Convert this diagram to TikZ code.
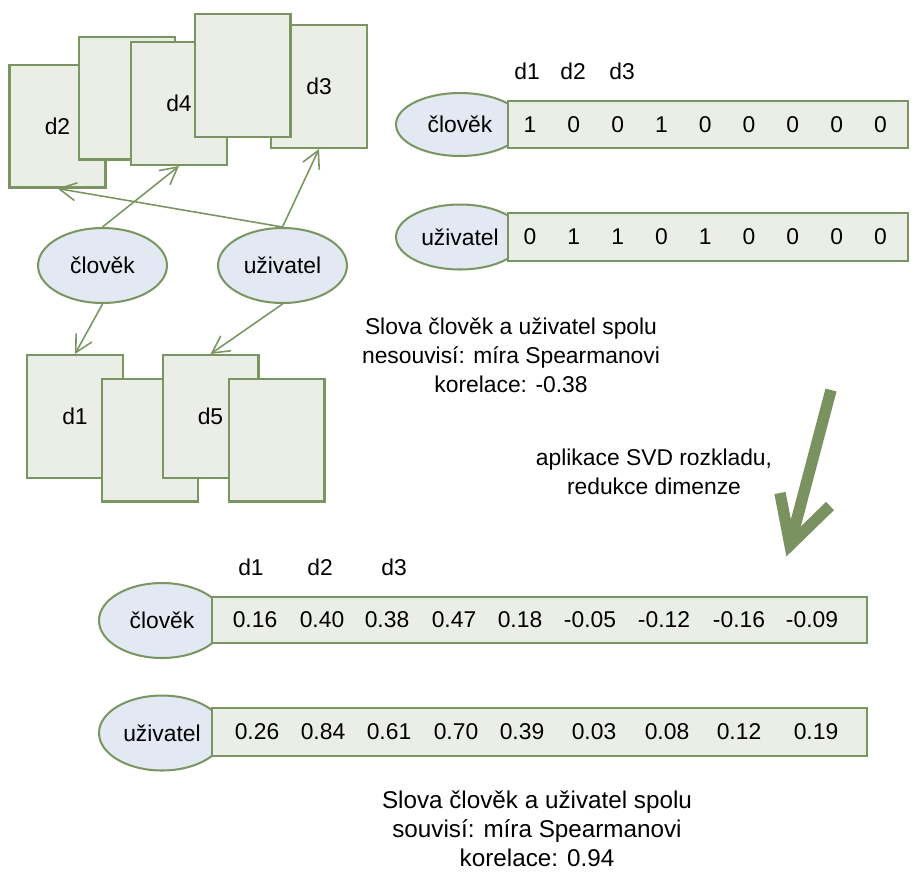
\documentclass[tikz,border=0pt]{standalone}
\usepackage{fontspec}
\setmainfont{Liberation Sans}
\usetikzlibrary{arrows.meta,shapes.geometric}
\definecolor{docline}{RGB}{122,149,97}
\definecolor{docfill}{RGB}{235,238,230}
\definecolor{wordfill}{RGB}{226,233,243}
\definecolor{svdgreen}{RGB}{122,145,96}

\begin{document}
\begin{tikzpicture}[x=0.02cm,y=-0.02cm,
  every node/.style={font=\fontsize{13}{16.5}\selectfont},
  doc/.style={draw=docline,fill=docfill,line width=1.15pt,inner sep=0pt,
    minimum width=1.92cm,minimum height=2.46cm},
  word/.style={ellipse,draw=docline,fill=wordfill,line width=1.15pt,inner sep=0pt,
    minimum width=2.58cm,minimum height=1.5cm},
  vec/.style={draw=docline,fill=docfill,line width=1.15pt,inner sep=0pt},
  link/.style={draw=docline,line width=0.9pt,-{Straight Barb[length=3.4mm,width=3.6mm]}},
  svd/.style={draw=svdgreen,line width=6.5pt}]
  \useasboundingbox (0,0) rectangle (916,877);

  % documents
  \node[doc] (d2) at (57.5,126) {d2};
  \node[doc] (b1) at (127,98) {};
  \node[doc] (d4) at (179,103.5) {d4};
  \node[doc] (d3) at (319,86.5) {d3};
  \node[doc] (b2) at (242.5,75.5) {};
  \node[doc] (d1) at (75,416.5) {d1};
  \node[doc] (b3) at (150,440) {};
  \node[doc] (d5) at (210.5,416.5) {d5};
  \node[doc] (b4) at (276.5,440) {};

  % words
  \node[word] (clovek) at (102.5,265.5) {člověk};
  \node[word] (uzivatel) at (282.5,265.5) {uživatel};
  \draw[link] (clovek.north) -- (d4.south);
  \draw[link] (clovek.south) -- (d1.north);
  \draw[link] (uzivatel.north) -- (d3.south);
  \draw[link] (uzivatel.north) -- (d2.south);
  \draw[link] (uzivatel.south) -- (d5.north);

  % term vectors
  \node (t1) at (527,71) {d1};
  \node (t2) at (573,71) {d2};
  \node (t3) at (622,71) {d3};
  \node[word,minimum width=2.56cm,minimum height=1.26cm] (tw1) at (460,124.5) {člověk};
  \node[vec,minimum width=8cm,minimum height=0.94cm] (tv1) at (708,124.5) {};
  \foreach \v [count=\i] in {1,0,0,1,0,0,0,0,0}
    \node (tv1n\i) at ({530+43.8*(\i-1)},124.5) {\v};
  \node[word,minimum width=2.56cm,minimum height=1.3cm] (tw2) at (460,237) {uživatel};
  \node[vec,minimum width=8cm,minimum height=0.96cm] (tv2) at (708,237) {};
  \foreach \v [count=\i] in {0,1,1,0,1,0,0,0,0}
    \node (tv2n\i) at ({530+43.8*(\i-1)},237) {\v};

  \node[align=center] (cap1) at (511,355) {Slova člověk a uživatel spolu\\nesouvisí: míra Spearmanovi\\korelace: -0.38};

  % SVD
  \coordinate (svdtop) at (831,390);
  \coordinate (svdtip) at (790,545);
  \coordinate (svdl) at (780,493);
  \coordinate (svdr) at (830,506);
  \draw[svd] (svdtop) -- (svdtip);
  \draw[svd,line join=miter] (svdl) -- (svdtip) -- (svdr);
  \node[align=center] (svdtext) at (654,472) {aplikace SVD rozkladu,\\redukce dimenze};

  % reduced vectors
  \node (s1) at (251,567) {d1};
  \node (s2) at (320,567) {d2};
  \node (s3) at (394,567) {d3};
  \node[word,minimum width=2.52cm] (sw1) at (162,620.5) {člověk};
  \node[vec,minimum width=13.1cm,minimum height=0.92cm] (sv1) at (539.5,620) {};
  \foreach \x/\v [count=\i] in {255/0.16,322/0.40,387/0.38,454/0.47,520/0.18,590/-0.05,664/-0.12,739/-0.16,812/-0.09}
    \node (sv1n\i) at (\x,620) {\v};
  \node[word,minimum width=2.52cm] (sw2) at (162,733) {uživatel};
  \node[vec,minimum width=13.1cm,minimum height=0.96cm] (sv2) at (539.5,732) {};
  \foreach \x/\v [count=\i] in {257/0.26,323/0.84,389/0.61,456/0.70,522/0.39,594/0.03,667/0.08,739/0.12,816/0.19}
    \node (sv2n\i) at (\x,732) {\v};

  \node[align=center,font=\fontsize{13.8}{16.5}\selectfont] (cap2) at (537,829) {Slova člověk a uživatel spolu\\souvisí: míra Spearmanovi\\korelace: 0.94};
\end{tikzpicture}
\end{document}
